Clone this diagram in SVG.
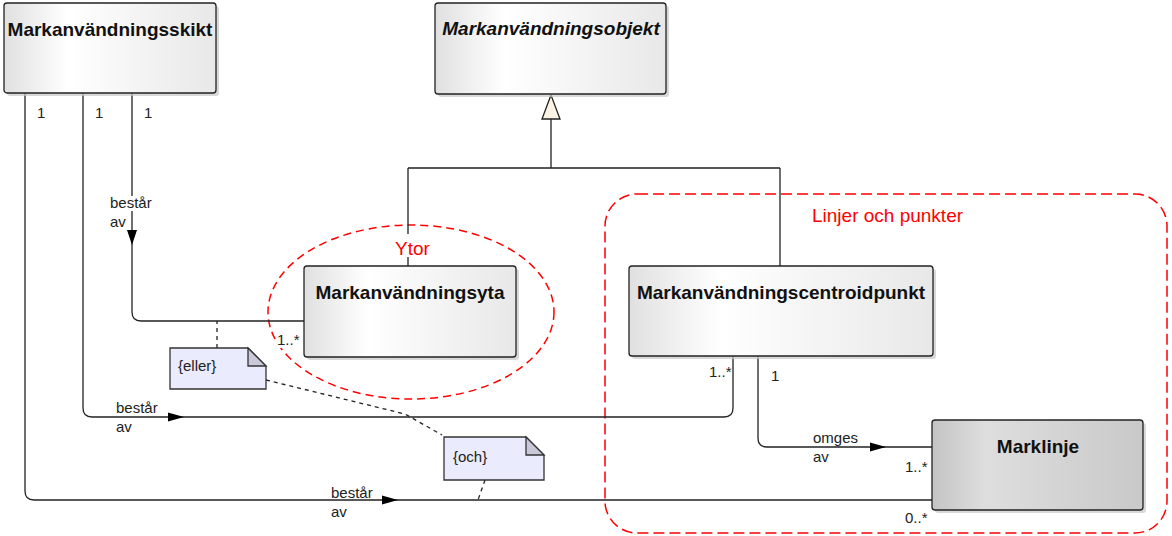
<svg xmlns="http://www.w3.org/2000/svg" width="1172" height="536" viewBox="0 0 1172 536">
<defs>
<linearGradient id="gLight" x1="0" y1="0" x2="1" y2="0">
<stop offset="0" stop-color="#e0e0e0"/>
<stop offset="0.3" stop-color="#ffffff"/>
<stop offset="1" stop-color="#e8e8e8"/>
</linearGradient>
<linearGradient id="gDark" x1="0" y1="0" x2="1" y2="0">
<stop offset="0" stop-color="#c4c4c4"/>
<stop offset="0.25" stop-color="#dedede"/>
<stop offset="1" stop-color="#c9c9c9"/>
</linearGradient>
<style>
.box{stroke:#222;stroke-width:1.3}
.shadow{fill:#c8c8c8;opacity:0.7}
.title{font-family:"Liberation Sans",Arial,sans-serif;font-size:19px;font-weight:bold;fill:#111;text-anchor:middle}
.lbl{font-family:"Liberation Sans",Arial,sans-serif;font-size:15px;fill:#222}
.red{font-family:"Liberation Sans",Arial,sans-serif;font-size:19px;fill:#ff0000}
.conn{fill:none;stroke:#222;stroke-width:1.3}
.dash{fill:none;stroke:#222;stroke-width:1.3;stroke-dasharray:4 4}
.arrow{fill:#000}
.note{fill:#eaebfc;stroke:#333;stroke-width:1.3}
.fold{fill:#c9c9d9;stroke:#333;stroke-width:1.3}
.region{fill:none;stroke:#ff0000;stroke-width:1.5}
</style>
</defs>
<rect width="1172" height="536" fill="#ffffff"/>

<g id="regions">
<rect class="region" x="605" y="194" width="562" height="339" rx="32" ry="32" stroke-dasharray="11 5"/>
<ellipse class="region" cx="411" cy="312" rx="143" ry="87" stroke-dasharray="8 5"/>
</g>

<g id="connectors">
<path class="conn" d="M132,93 V312 Q132,321 141,321 H304"/>
<polygon class="arrow" points="127,230 137,230 132,245"/>
<path class="conn" d="M83,93 V408 Q83,417 92,417 H724 Q733,417 733,408 V356"/>
<polygon class="arrow" points="168,412.5 168,421.5 184,417"/>
<path class="conn" d="M758,356 V438 Q758,447 767,447 H932"/>
<polygon class="arrow" points="870,442.5 870,451.5 886,447"/>
<path class="conn" d="M25,93 V491 Q25,500 34,500 H932"/>
<polygon class="arrow" points="382,495.5 382,504.5 398,500"/>
<path class="conn" d="M551,119 V168 M408,168 H780 M408,168 V266 M780,168 V266"/>
<polygon points="551,95 542,119 560,119" fill="#fbf4e4" stroke="#222" stroke-width="1.3"/>
<path class="dash" d="M217,348 V321"/>
<path class="dash" d="M266,380 L405,414 L442,435"/>
<path class="dash" d="M485,480 L478,500"/>
</g>

<g id="labels">
<rect x="109" y="196" width="44" height="15" fill="#fff"/>
<text class="lbl" x="110" y="208">består</text>
<text class="lbl" x="110" y="227">av</text>
<text class="lbl" x="116" y="413">består</text>
<text class="lbl" x="116" y="432">av</text>
<text class="lbl" x="331" y="498">består</text>
<text class="lbl" x="331" y="517">av</text>
<text class="lbl" x="813" y="443">omges</text>
<text class="lbl" x="813" y="462">av</text>
<text class="lbl" x="37" y="118">1</text>
<text class="lbl" x="95" y="118">1</text>
<text class="lbl" x="144" y="118">1</text>
<rect x="276" y="333" width="25" height="15" fill="#fff"/>
<text class="lbl" x="277" y="345">1..*</text>
<text class="lbl" x="709" y="377">1..*</text>
<text class="lbl" x="771" y="381">1</text>
<text class="lbl" x="905" y="472">1..*</text>
<text class="lbl" x="905" y="523">0..*</text>
<rect x="393" y="234" width="38" height="23" fill="#fff"/>
<text class="red" x="395" y="255">Ytor</text>
<text class="red" x="812" y="222">Linjer och punkter</text>
</g>

<g id="Markanvandningsskikt">
<rect class="shadow" x="7" y="6" width="212" height="90" rx="3"/>
<rect class="box" x="4" y="3" width="212" height="90" rx="3" fill="url(#gLight)"/>
<text class="title" x="110" y="36">Markanvändningsskikt</text>
</g>

<g id="Markanvandningsobjekt">
<rect class="shadow" x="438" y="6" width="231" height="91" rx="3"/>
<rect class="box" x="435" y="3" width="231" height="91" rx="3" fill="url(#gLight)"/>
<text class="title" x="551" y="35" font-style="italic">Markanvändningsobjekt</text>
</g>

<g id="Markanvandningsyta">
<rect class="shadow" x="307" y="269" width="212" height="91" rx="3"/>
<rect class="box" x="304" y="266" width="212" height="91" rx="3" fill="url(#gLight)"/>
<text class="title" x="410" y="299">Markanvändningsyta</text>
</g>

<g id="Markanvandningscentroidpunkt">
<rect class="shadow" x="632" y="269" width="304" height="90" rx="3"/>
<rect class="box" x="629" y="266" width="304" height="90" rx="3" fill="url(#gLight)"/>
<text class="title" x="781" y="299">Markanvändningscentroidpunkt</text>
</g>

<g id="Marklinje">
<rect class="shadow" x="935" y="423" width="211" height="90" rx="3"/>
<rect class="box" x="932" y="420" width="211" height="90" rx="3" fill="url(#gDark)"/>
<text class="title" x="1038" y="453">Marklinje</text>
</g>

<g id="note-eller">
<path class="note" d="M170,348 H248 L266,366 V389 H170 Z"/>
<path class="fold" d="M248,348 V366 H266 Z"/>
<text class="lbl" x="178" y="371">{eller}</text>
</g>

<g id="note-och">
<path class="note" d="M444,437 H526 L544,455 V480 H444 Z"/>
<path class="fold" d="M526,437 V455 H544 Z"/>
<text class="lbl" x="453" y="462">{och}</text>
</g>
</svg>
